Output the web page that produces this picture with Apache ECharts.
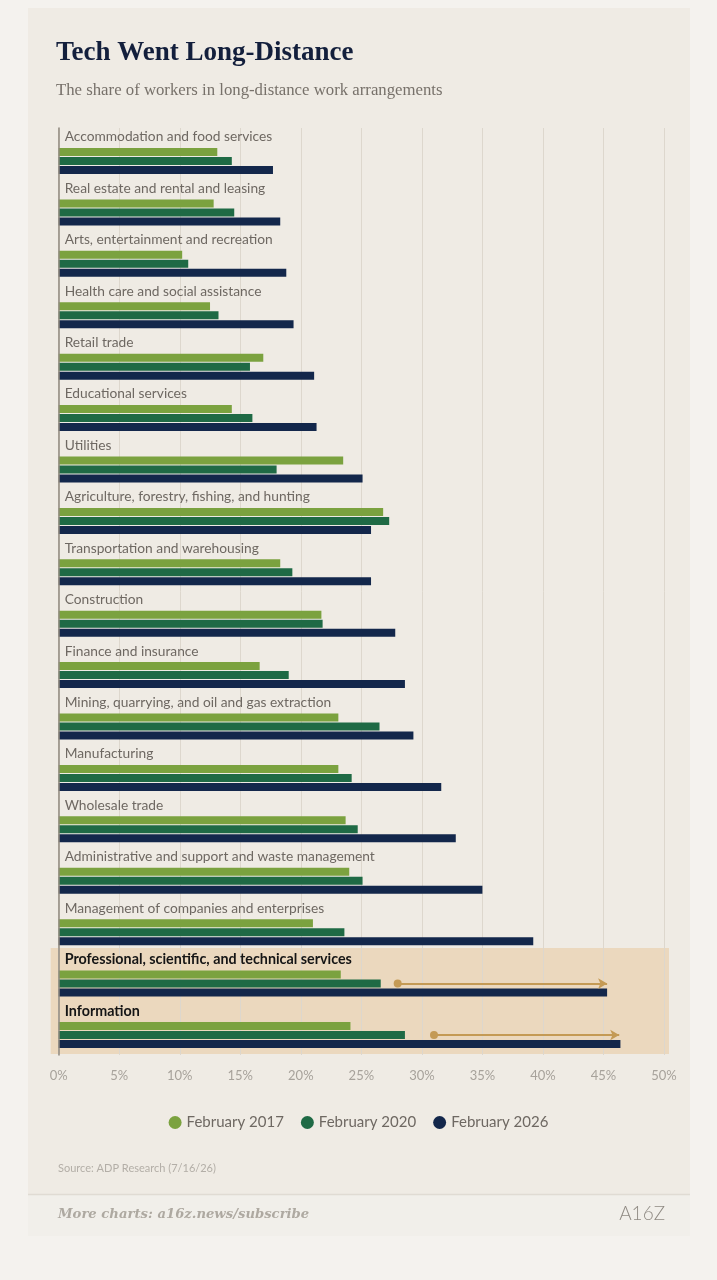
<!DOCTYPE html>
<html><head><meta charset="utf-8">
<script src="https://cdn.jsdelivr.net/npm/echarts@6/dist/echarts.min.js"></script>
<style>html,body{margin:0;padding:0;background:#f4f2ee;}#chart{width:717px;height:1280px;}</style>
</head><body><div id="chart"></div>
<script>
const categories = [
  'Accommodation and food services',
  'Real estate and rental and leasing',
  'Arts, entertainment and recreation',
  'Health care and social assistance',
  'Retail trade',
  'Educational services',
  'Utilities',
  'Agriculture, forestry, fishing, and hunting',
  'Transportation and warehousing',
  'Construction',
  'Finance and insurance',
  'Mining, quarrying, and oil and gas extraction',
  'Manufacturing',
  'Wholesale trade',
  'Administrative and support and waste management',
  'Management of companies and enterprises',
  'Professional, scientific, and technical services',
  'Information'
];
const feb2017 = [13.1, 12.8, 10.2, 12.5, 16.9, 14.3, 23.5, 26.8, 18.3, 21.7, 16.6, 23.1, 23.1, 23.7, 24.0, 21.0, 23.3, 24.1];
const feb2020 = [14.3, 14.5, 10.7, 13.2, 15.8, 16.0, 18.0, 27.3, 19.3, 21.8, 19.0, 26.5, 24.2, 24.7, 25.1, 23.6, 26.6, 28.6];
const feb2026 = [17.7, 18.3, 18.8, 19.4, 21.1, 21.3, 25.1, 25.8, 25.8, 27.8, 28.6, 29.3, 31.6, 32.8, 35.0, 39.2, 45.3, 46.4];
const seriesNames = ['February 2017', 'February 2020', 'February 2026'];
const highlighted = ['Professional, scientific, and technical services', 'Information'];
const arrowStart = [28.0, 31.0];
const arrowEnd = [45.3, 46.3];
const xMin = 0, xMax = 50, xStep = 5;

const colors = ['#7ba23f', '#1f6a45', '#13274b'];
const chart = echarts.init(document.getElementById('chart'));

const arrowLines = highlighted.map((c, i) => [{ coord: [arrowStart[i], c] }, { coord: [arrowEnd[i], c] }]);

const option = {
  animation: false,
  backgroundColor: 'transparent',
  grid: [
    { left: 58.7, right: 53, top: 135.3, height: 925.4 },   // bars
    { left: 58.7, right: 53, top: 128, height: 927 }        // frame: axis line + gridlines
  ],
  legend: {
    data: seriesNames, top: 1110, left: 'center', icon: 'circle',
    itemWidth: 13, itemHeight: 13, itemGap: 17,
    textStyle: { fontFamily: 'Lato', fontSize: 15, color: '#6e6862' }
  },
  xAxis: [
    { type: 'value', gridIndex: 0, min: xMin, max: xMax, interval: xStep, show: false, splitLine: { show: false } },
    {
      type: 'value', gridIndex: 1, min: xMin, max: xMax, interval: xStep,
      axisLine: { show: false }, axisTick: { show: false },
      axisLabel: { formatter: '{value}%', color: '#a7a29b', fontFamily: 'Lato', fontSize: 13, margin: 14 },
      splitLine: { lineStyle: { color: '#ddd7cd', width: 1 } }
    }
  ],
  yAxis: [
    {
      type: 'category', gridIndex: 0, data: categories, inverse: true,
      axisLine: { show: false }, axisTick: { show: false },
      axisLabel: {
        inside: true, margin: 6, fontFamily: 'Lato', fontSize: 13.75, color: '#6e6862',
        verticalAlign: 'middle', padding: [0, 0, 48, 0],
        formatter: v => highlighted.includes(v) ? '{b|' + v + '}' : v,
        rich: { b: { fontFamily: 'Lato', fontWeight: 'bold', fontSize: 14.3, color: '#151515' } }
      },
      z: 5
    },
    {
      type: 'value', gridIndex: 1, min: 0, max: 1,
      axisLine: { show: true, lineStyle: { color: '#8f887e', width: 1.5 } },
      axisTick: { show: false }, axisLabel: { show: false }, splitLine: { show: false }, z: 6
    }
  ],
  series: [
    { name: seriesNames[0], type: 'bar', data: feb2017, barWidth: 8, barGap: '12.5%', itemStyle: { color: colors[0] } },
    { name: seriesNames[1], type: 'bar', data: feb2020, barWidth: 8, barGap: '12.5%', itemStyle: { color: colors[1] },
      markLine: {
        silent: true, symbol: ['circle', 'arrow'], symbolSize: [8, 9], precision: 1,
        label: { show: false },
        lineStyle: { color: '#c49a55', width: 2, type: 'solid' },
        data: arrowLines
      }
    },
    { name: seriesNames[2], type: 'bar', data: feb2026, barWidth: 8, barGap: '12.5%', itemStyle: { color: colors[2] } }
  ]
};
chart.setOption(option);

// Decorations placed from the library's own scales
const c0 = chart.convertToPixel({ yAxisIndex: 0 }, categories[0]);
const c1 = chart.convertToPixel({ yAxisIndex: 0 }, categories[1]);
const band = c1 - c0;
const pTop = chart.convertToPixel({ yAxisIndex: 0 }, highlighted[0]);
const pBot = chart.convertToPixel({ yAxisIndex: 0 }, highlighted[highlighted.length - 1]);
const x0 = chart.convertToPixel({ xAxisIndex: 0 }, xMin);
const x1 = chart.convertToPixel({ xAxisIndex: 0 }, xMax);
const hlTop = pTop - band * 0.69;
const hlBot = pBot + band * 0.37;

chart.setOption({
  graphic: [
    { type: 'rect', z: -100, shape: { x: 28, y: 8, width: 662, height: 1186 }, style: { fill: '#efebe4' } },
    { type: 'rect', z: -100, shape: { x: 28, y: 1194, width: 662, height: 42 }, style: { fill: '#f1efea' } },
    { type: 'line', z: -90, shape: { x1: 28, y1: 1194.5, x2: 690, y2: 1194.5 }, style: { stroke: '#e0dbd3', lineWidth: 1.5 } },
    { type: 'rect', z: -50, shape: { x: x0 - 8, y: hlTop, width: (x1 - x0) + 13, height: hlBot - hlTop }, style: { fill: '#ebd8be' } },
    { type: 'text', z: 10, style: { x: 56, y: 53, text: 'Tech Went Long-Distance', fill: '#131f3c', font: 'bold 27px "Liberation Serif"', textVerticalAlign: 'middle' } },
    { type: 'text', z: 10, style: { x: 56, y: 91, text: 'The share of workers in long-distance work arrangements', fill: '#77716a', font: '16.75px "Liberation Serif"', textVerticalAlign: 'middle' } },
    { type: 'text', z: 10, style: { x: 58, y: 1168, text: 'Source: ADP Research (7/16/26)', fill: '#b3aea7', font: '11px Lato', textVerticalAlign: 'middle' } },
    { type: 'text', z: 10, style: { x: 58, y: 1215, text: 'More charts: a16z.news/subscribe', fill: '#aea9a1', font: 'italic bold 13.2px "DejaVu Serif"', textVerticalAlign: 'middle' } },
    { type: 'text', z: 10, style: { x: 665, y: 1214, text: 'A16Z', fill: '#8f8a83', font: '300 19px Lato', textAlign: 'right', textVerticalAlign: 'middle' } }
  ]
});
</script></body></html>
